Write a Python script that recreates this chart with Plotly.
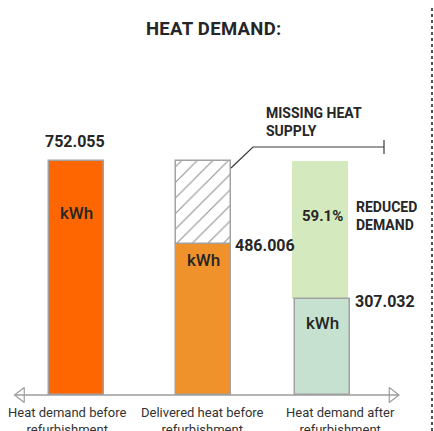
import plotly.graph_objects as go

# --- data -------------------------------------------------------------
categories = [
    "Heat demand before<br>refurbishment",
    "Delivered heat before<br>refurbishment",
    "Heat demand after<br>refurbishment",
]
demand_before = 752.055      # kWh
delivered_before = 486.006   # kWh
demand_after = 307.032       # kWh
reduction_pct = 59.1         # %
value_labels = ["752.055", "486.006", "307.032"]

# --- layout constants (pixels) ----------------------------------------
W, H = 434, 431
AXIS_PX = 395        # baseline row
TOP_PX = 161         # row of the tallest bar
bar_x = [76.5, 203.5, 321.0]
bar_w = 55
label_x = [67, 202, 340]

ppu = (AXIS_PX - TOP_PX) / demand_before
y_lo = -(H - AXIS_PX) / ppu
y_hi = AXIS_PX / ppu


def py(px):
    """Convert a pixel row into a y-axis value."""
    return (AXIS_PX - px) / ppu


BORDER = dict(color="#a2a2a2", width=1.5)
HEAD = "Roboto, Arial, sans-serif"
INK = "#262626"

fig = go.Figure()

# heat demand before refurbishment
fig.add_trace(go.Bar(x=[bar_x[0]], y=[demand_before], width=bar_w,
                     marker=dict(color="#fd6600", line=BORDER)))
# delivered heat before refurbishment
fig.add_trace(go.Bar(x=[bar_x[1]], y=[delivered_before], width=bar_w,
                     marker=dict(color="#f0922b", line=BORDER)))
# missing heat supply (hatched)
fig.add_trace(go.Bar(x=[bar_x[1]], y=[demand_before - delivered_before],
                     base=[delivered_before], width=bar_w,
                     marker=dict(color="white", line=BORDER,
                                 pattern=dict(shape="/", fgcolor="#222222",
                                              bgcolor="white", size=11,
                                              solidity=0.1))))
# reduced demand
fig.add_trace(go.Bar(x=[bar_x[2] - 1], y=[demand_before - demand_after],
                     base=[demand_after], width=bar_w + 1,
                     marker=dict(color="#d5e9be", line=dict(width=0))))
# heat demand after refurbishment
fig.add_trace(go.Bar(x=[bar_x[2] + 1.5], y=[demand_after], width=bar_w,
                     marker=dict(color="#c6e1d0", line=BORDER)))

# hollow arrowheads at the ends of the baseline
fig.add_trace(go.Scatter(x=[21, 392.5], y=[0, 0], mode="markers",
                         marker=dict(symbol=["triangle-left-open", "triangle-right-open"],
                                     size=13, color="#9c9c9c",
                                     line=dict(width=1.2, color="#9c9c9c"))))

shapes = [
    # baseline
    dict(type="line", xref="x", yref="y", x0=15, x1=398, y0=0, y1=0,
         line=dict(color="#9c9c9c", width=1.5)),
    # leader to the missing-supply note
    dict(type="path", xref="x", yref="y",
         path=f"M {bar_x[1] + bar_w / 2},{py(168)} L 253,{py(147)} L 384,{py(147)}",
         line=dict(color="#3a3a3a", width=1.2)),
    dict(type="line", xref="x", yref="y", x0=384, x1=384, y0=py(140), y1=py(154),
         line=dict(color="#3a3a3a", width=1.2)),
    # dotted separator on the right
    dict(type="line", xref="x", yref="y", x0=432, x1=432, y0=py(8), y1=py(431),
         line=dict(color="#555555", width=2, dash="dot")),
]

ann = []


def add_text(text, x, y, size, family=HEAD, weight="bold", xanchor="center",
             yanchor="middle", align="center", yshift=0, color=INK, spacing=None):
    if spacing:
        text = "<br>".join(
            f'<span style="letter-spacing:{spacing}px">{t}</span>'
            for t in text.split("<br>"))
    ann.append(dict(text=text, x=x, y=y, xref="x", yref="y", showarrow=False,
                    xanchor=xanchor, yanchor=yanchor, align=align, yshift=yshift,
                    font=dict(family=family, size=size, color=color, weight=weight)))


# title
add_text("HEAT DEMAND:", 213, py(29), 18.5, spacing=0.3)
# values
add_text(value_labels[0], bar_x[0] - 2, demand_before, 16, yshift=20)
add_text(value_labels[1], bar_x[1] + bar_w / 2 + 2, delivered_before, 16,
         xanchor="left", yshift=-2)
add_text(value_labels[2], bar_x[2] + bar_w / 2 + 4, demand_after, 16,
         xanchor="left", yshift=-2)
# notes
add_text("MISSING HEAT<br>SUPPLY", 264, demand_before, 14, xanchor="left",
         align="left", yshift=39)
add_text(f"{reduction_pct}%", bar_x[2] + 1, (demand_before + demand_after) / 2 + py(204) - py(218),
         15)
add_text("REDUCED<br>DEMAND", 354, (demand_before + demand_after) / 2, 14,
         xanchor="left", align="left", yshift=14)
# units inside bars
add_text("kWh", bar_x[0], demand_before, 17, weight=500, yshift=-52)
add_text("kWh", bar_x[1], delivered_before, 17, weight=500, yshift=-16)
add_text("kWh", bar_x[2] + 1.5, demand_after, 17, weight=500, yshift=-24)
# category labels
for lx, cat in zip(label_x, categories):
    add_text(cat, lx, py(403), 13, weight=400, yanchor="top", color="#333333")

fig.update_layout(
    width=W, height=H,
    margin=dict(l=0, r=0, t=0, b=0),
    paper_bgcolor="white", plot_bgcolor="white",
    barmode="overlay", bargap=0, showlegend=False,
    xaxis=dict(range=[0, W], visible=False, fixedrange=True),
    yaxis=dict(range=[y_lo, y_hi], visible=False, fixedrange=True),
    shapes=shapes, annotations=ann,
)

fig.write_html("out.html", config={"displayModeBar": False})
